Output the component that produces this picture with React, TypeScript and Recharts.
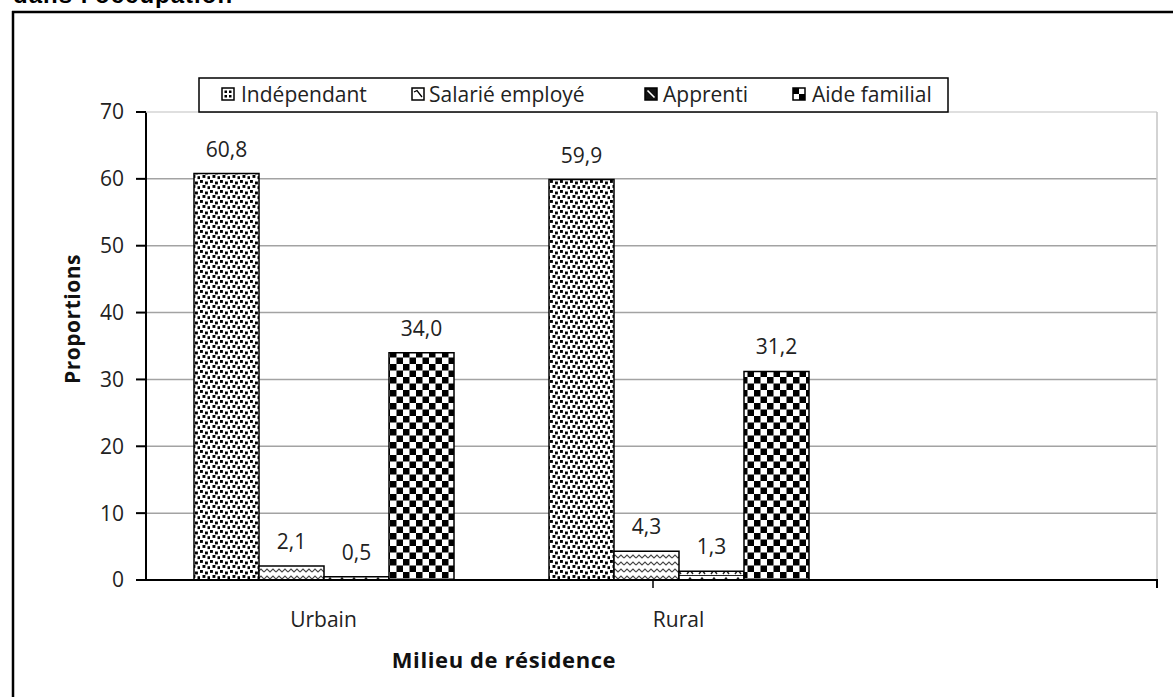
import React from 'react';
import { BarChart, Bar, XAxis, YAxis, CartesianGrid, LabelList } from 'recharts';

const categories = ['Urbain', 'Rural'];
const independant = [60.8, 59.9];
const salarie = [2.1, 4.3];
const apprenti = [0.5, 1.3];
const aideFamilial = [34.0, 31.2];
const yTicks = [0, 10, 20, 30, 40, 50, 60, 70];
const gridValues = [10, 20, 30, 40, 50, 60];
const seriesNames = ['Indépendant', 'Salarié employé', 'Apprenti', 'Aide familial'];
const titleText = "dans l'occupation";
const xTitle = 'Milieu de résidence';
const yTitle = 'Proportions';

const data = categories.map((c, i) => ({
  cat: c,
  ind: independant[i],
  sal: salarie[i],
  app: apprenti[i],
  aide: aideFamilial[i],
}));

const FONT = '"Open Sans", "DejaVu Sans", sans-serif';
const fmt = (v: any) => Number(v).toFixed(1).replace('.', ',');

const YLabel = () => (
  <text
    x={72}
    y={319}
    transform="rotate(-90 72 319)"
    textAnchor="middle"
    dominantBaseline="central"
    fontFamily={FONT}
    fontWeight={700}
    fontSize={21}
    letterSpacing={0.5}
    fill="#111"
  >
    {yTitle}
  </text>
);

const XLabel = () => (
  <text x={504} y={668} textAnchor="middle" fontFamily={FONT} fontWeight={700} fontSize={22} letterSpacing={0.6} fill="#111">
    {xTitle}
  </text>
);

const Patterns = () => (
  <svg width={0} height={0} style={{ position: 'absolute' }}>
    <defs>
      <pattern id="pInd" width={10} height={10} patternUnits="userSpaceOnUse">
        <rect width={10} height={10} fill="#fff" />
        <rect x={0} y={0} width={2.9} height={2.9} fill="#000" />
        <rect x={5} y={1.5} width={2.9} height={2.9} fill="#000" />
        <rect x={2.5} y={5} width={2.9} height={2.9} fill="#000" />
        <rect x={7.5} y={6.2} width={2.9} height={2.9} fill="#000" />
      </pattern>
      <pattern id="pSal" width={12} height={7} patternUnits="userSpaceOnUse">
        <rect width={12} height={7} fill="#fff" />
        <polyline points="0,5 3,2 6,5 9,2 12,5" fill="none" stroke="#444" strokeWidth={1.1} />
      </pattern>
      <pattern id="pApp" width={12} height={8} patternUnits="userSpaceOnUse">
        <rect width={12} height={8} fill="#fff" />
        <polyline points="3,6 6,2 9,6" fill="none" stroke="#222" strokeWidth={1.4} />
        <line x1={0} y1={7.5} x2={12} y2={7.5} stroke="#222" strokeWidth={1} />
      </pattern>
      <pattern id="pAide" width={13} height={13} patternUnits="userSpaceOnUse">
        <rect width={13} height={13} fill="#fff" />
        <rect x={0} y={0} width={6.5} height={6.5} fill="#000" />
        <rect x={6.5} y={6.5} width={6.5} height={6.5} fill="#000" />
      </pattern>
    </defs>
  </svg>
);

const legendItems = [
  { name: seriesNames[0], ix: 222, tx: 241 },
  { name: seriesNames[1], ix: 412, tx: 429 },
  { name: seriesNames[2], ix: 645, tx: 663 },
  { name: seriesNames[3], ix: 793, tx: 812 },
];

const LegendIcon = ({ i, x }: { i: number; x: number }) => {
  const y = 88;
  const s = 12;
  if (i === 0)
    return (
      <g>
        <rect x={x} y={y} width={s} height={s} fill="#fff" stroke="#000" strokeWidth={1.5} />
        <rect x={x + 2.5} y={y + 2.5} width={2.5} height={2.5} fill="#000" />
        <rect x={x + 7} y={y + 2.5} width={2.5} height={2.5} fill="#000" />
        <rect x={x + 2.5} y={y + 7} width={2.5} height={2.5} fill="#000" />
        <rect x={x + 7} y={y + 7} width={2.5} height={2.5} fill="#000" />
      </g>
    );
  if (i === 1)
    return (
      <g>
        <rect x={x} y={y} width={s} height={s} fill="#fff" stroke="#000" strokeWidth={1.5} />
        <polyline points={`${x + 2},${y + 4} ${x + 5},${y + 2.5} ${x + 10},${y + 9}`} fill="none" stroke="#000" strokeWidth={1.3} />
      </g>
    );
  if (i === 2)
    return (
      <g>
        <rect x={x} y={y} width={s} height={s} fill="#111" stroke="#000" strokeWidth={1.5} />
        <line x1={x + 2.5} y1={y + 2.5} x2={x + 9.5} y2={y + 9.5} stroke="#fff" strokeWidth={1.6} />
      </g>
    );
  return (
    <g>
      <rect x={x} y={y} width={s} height={s} fill="#fff" stroke="#000" strokeWidth={1.5} />
      <rect x={x} y={y} width={s / 2} height={s / 2} fill="#000" />
      <rect x={x + s / 2} y={y + s / 2} width={s / 2} height={s / 2} fill="#000" />
    </g>
  );
};

const Overlay = () => (
  <svg width={1173} height={697} style={{ position: 'absolute', left: 0, top: 0, pointerEvents: 'none' }}>
    <rect x={1158} y={100} width={15} height={500} fill="#fff" />
    <text x={13} y={3} fontFamily='"Liberation Sans", Arial, sans-serif' fontWeight={700} fontSize={24} letterSpacing={1} fill="#000">
      {titleText}
    </text>
    <line x1={12} y1={12} x2={1173} y2={12} stroke="#000" strokeWidth={2.5} />
    <line x1={13} y1={11} x2={13} y2={697} stroke="#000" strokeWidth={2.5} />
    <line x1={146} y1={112} x2={1157} y2={112} stroke="#d4d4d4" strokeWidth={1.5} />
    <line x1={1157} y1={112} x2={1157} y2={580} stroke="#c4c4c4" strokeWidth={1.5} />
    <line x1={1157} y1={579} x2={1157} y2={588} stroke="#000" strokeWidth={2} />
    <line x1={653} y1={579} x2={653} y2={588} stroke="#000" strokeWidth={1.5} />
    <rect x={199} y={78} width={749} height={34} fill="#fff" stroke="#000" strokeWidth={1.5} />
    {legendItems.map((it, i) => (
      <g key={it.name}>
        <LegendIcon i={i} x={it.ix} />
        <text x={it.tx} y={102} fontFamily={FONT} fontSize={21} fill="#222">
          {it.name}
        </text>
      </g>
    ))}
  </svg>
);

export default function App() {
  return (
    <div style={{ position: 'absolute', left: 0, top: 0, width: 1173, height: 697, background: '#fff' }}>
      <Patterns />
      <BarChart
        width={1173}
        height={697}
        data={data}
        margin={{ top: 112, right: 16, bottom: 77, left: 86 }}
        barGap={0}
        barSize={65}
      >
        <CartesianGrid vertical={false} horizontalValues={gridValues} stroke="#a3a3a3" strokeWidth={1.5} />
        <XAxis
          dataKey="cat"
          padding={{ left: 0, right: 301 }}
          height={40}
          tickLine={false}
          tickSize={0}
          tickMargin={32}
          axisLine={{ stroke: '#000', strokeWidth: 2 }}
          tick={{ fontSize: 21, fill: '#222', fontFamily: FONT }}
          label={<XLabel />}
        />
        <YAxis
          width={60}
          domain={[0, 70]}
          ticks={yTicks}
          interval={0}
          tickSize={10}
          tickMargin={12}
          axisLine={{ stroke: '#000', strokeWidth: 2 }}
          tickLine={{ stroke: '#000', strokeWidth: 2 }}
          tick={{ fontSize: 21, fill: '#222', fontFamily: FONT }}
          label={<YLabel />}
        />
        <Bar dataKey="ind" fill="url(#pInd)" stroke="#000" strokeWidth={1.5} isAnimationActive={false}>
          <LabelList dataKey="ind" position="top" offset={17} formatter={fmt} fill="#222" fontSize={21} fontFamily={FONT} />
        </Bar>
        <Bar dataKey="sal" fill="url(#pSal)" stroke="#000" strokeWidth={1.5} isAnimationActive={false}>
          <LabelList dataKey="sal" position="top" offset={17} formatter={fmt} fill="#222" fontSize={21} fontFamily={FONT} />
        </Bar>
        <Bar dataKey="app" fill="url(#pApp)" stroke="#000" strokeWidth={1.5} isAnimationActive={false}>
          <LabelList dataKey="app" position="top" offset={17} formatter={fmt} fill="#222" fontSize={21} fontFamily={FONT} />
        </Bar>
        <Bar dataKey="aide" fill="url(#pAide)" stroke="#000" strokeWidth={1.5} isAnimationActive={false}>
          <LabelList dataKey="aide" position="top" offset={17} formatter={fmt} fill="#222" fontSize={21} fontFamily={FONT} />
        </Bar>
      </BarChart>
      <Overlay />
    </div>
  );
}
